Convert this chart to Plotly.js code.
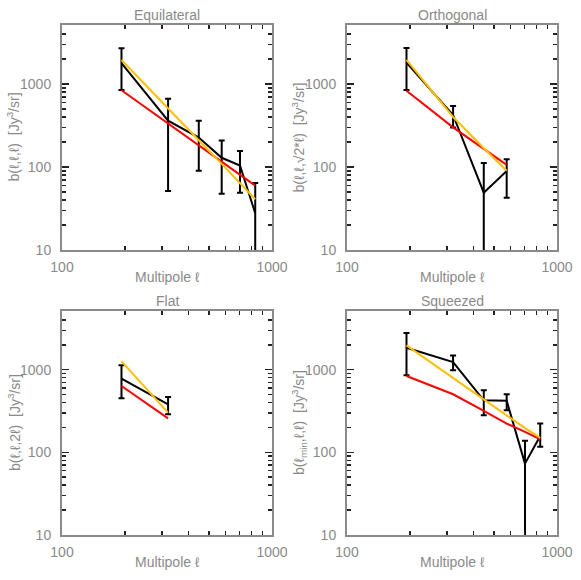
<!DOCTYPE html>
<html>
<head>
<meta charset="utf-8">
<script src="https://cdn.plot.ly/plotly-3.0.1.min.js"></script>
<style>
  body { margin: 0; background: #fff; }
  #plot { width: 581px; height: 580px; }
</style>
</head>
<body>
<div id="plot"></div>
<script>
// Equilateral
var eqL   = [192, 320, 448, 576, 704, 832];
var eqB   = [1780, 361, 226, 129, 104, 27.7];
var eqHi  = [2690, 665, 361, 209, 156, 64];
var eqLo  = [847, 51.4, 90, 47.7, 49, 1];
var eqRed = [840, 333, 184, 117, 81, 59.6];
var eqYel = [1946, 501, 210, 109, 64, 40.8];

// Orthogonal
var orL   = [192, 320, 448, 576];
var orB   = [1807, 423, 49, 89.5];
var orHi  = [2716, 543, 112, 124];
var orLo  = [847, 298, 1, 42.7];
var orRed = [830, 300, 165, 106];
var orYel = [1946, 400, 168, 90];

// Flat
var flL   = [192, 320];
var flB   = [779, 381];
var flHi  = [1128, 468];
var flLo  = [451, 289];
var flRed = [635, 258];
var flYel = [1261, 303];

// Squeezed
var sqL   = [192, 320, 448, 576, 704, 832];
var sqB   = [1844, 1238, 426, 420, 73, 158];
var sqHi  = [2772, 1489, 563, 504, 138, 223];
var sqLo  = [855, 982, 281, 323, 1, 117];
var sqRed = [839, 504, 317, 223, 177, 144];
var sqYel = [1967, 800, 443, 279, 196, 150];

var xTicks = [100, 1000];
var yTicks = [10, 100, 1000];

var panels = [
  {l: eqL, b: eqB, hi: eqHi, lo: eqLo, red: eqRed, yel: eqYel, title: 'Equilateral',
   ylab: 'b(ℓ,ℓ,ℓ)  [Jy<sup>3</sup>/sr]'},
  {l: orL, b: orB, hi: orHi, lo: orLo, red: orRed, yel: orYel, title: 'Orthogonal',
   ylab: 'b(ℓ,ℓ,√2*ℓ)  [Jy<sup>3</sup>/sr]'},
  {l: flL, b: flB, hi: flHi, lo: flLo, red: flRed, yel: flYel, title: 'Flat',
   ylab: 'b(ℓ,ℓ,2ℓ)  [Jy<sup>3</sup>/sr]'},
  {l: sqL, b: sqB, hi: sqHi, lo: sqLo, red: sqRed, yel: sqYel, title: 'Squeezed',
   ylab: 'b(ℓ<sub>min</sub>,ℓ,ℓ)  [Jy<sup>3</sup>/sr]'}
];

var W = 581, H = 580;
// plot boxes in pixels: [left, right, top, bottom]
var boxes = [
  [62, 272, 25, 250],
  [347, 557, 25, 250],
  [62, 272, 311, 535],
  [347, 557, 311, 535]
];

var minorX = [], minorY = [];
for (var d = 100; d < 1000; d *= 10) for (var k = 2; k <= 9; k++) minorX.push(k * d);
for (var d2 = 10; d2 < 10000; d2 *= 10) for (var k2 = 2; k2 <= 9; k2++) minorY.push(k2 * d2);

var grey = '#8a8a8a';
var font = {family: 'Liberation Sans, Arial, sans-serif', size: 14, color: grey};

var data = [];
var layout = {
  width: W, height: H,
  margin: {l: 0, r: 0, t: 0, b: 0},
  paper_bgcolor: '#fff', plot_bgcolor: '#fff',
  showlegend: false,
  font: font,
  annotations: []
};

panels.forEach(function (p, i) {
  var n = i === 0 ? '' : String(i + 1);
  var xa = 'x' + n, ya = 'y' + n;
  var bx = boxes[i];

  data.push({
    x: p.l, y: p.b, xaxis: xa, yaxis: ya, type: 'scatter', mode: 'lines',
    line: {color: '#000', width: 2},
    error_y: {
      type: 'data', symmetric: false,
      array: p.hi.map(function (v, j) { return v - p.b[j]; }),
      arrayminus: p.lo.map(function (v, j) { return p.b[j] - v; }),
      color: '#000', thickness: 2, width: 3
    }
  });
  data.push({x: p.l, y: p.red, xaxis: xa, yaxis: ya, type: 'scatter', mode: 'lines',
    line: {color: '#ff0000', width: 2}});
  data.push({x: p.l, y: p.yel, xaxis: xa, yaxis: ya, type: 'scatter', mode: 'lines',
    line: {color: '#ffbf00', width: 2}});

  layout['xaxis' + n] = {
    type: 'log', range: [2, 3], anchor: ya,
    domain: [bx[0] / W, bx[1] / W],
    showgrid: false, zeroline: false,
    showline: true, linecolor: grey, linewidth: 2, mirror: 'allticks',
    ticks: 'inside', ticklen: 7, tickwidth: 1.5, tickcolor: '#222',
    tickmode: 'array', tickvals: xTicks, ticktext: xTicks.map(String),
    ticklabelstandoff: 3,
    minor: {ticks: 'inside', ticklen: 4, tickwidth: 1.5, tickcolor: '#222', tickmode: 'array', tickvals: minorX},
    tickfont: font
  };
  layout['yaxis' + n] = {
    type: 'log', range: [1, 3.71], anchor: xa,
    domain: [1 - bx[3] / H, 1 - bx[2] / H],
    showgrid: false, zeroline: false,
    showline: true, linecolor: grey, linewidth: 2, mirror: 'allticks',
    ticks: 'inside', ticklen: 7, tickwidth: 1.5, tickcolor: '#222',
    tickmode: 'array', tickvals: yTicks, ticktext: yTicks.map(String),
    ticklabelstandoff: 6,
    minor: {ticks: 'inside', ticklen: 4, tickwidth: 1.5, tickcolor: '#222', tickmode: 'array', tickvals: minorY},
    tickfont: font
  };

  var cx = (bx[0] + bx[1]) / 2 / W;
  var cy = 1 - (bx[2] + bx[3]) / 2 / H;
  layout.annotations.push({
    text: p.title, xref: 'paper', yref: 'paper', x: cx, y: 1 - (bx[2] - 10) / H,
    xanchor: 'center', yanchor: 'middle', showarrow: false, font: font
  });
  layout.annotations.push({
    text: 'Multipole ℓ', xref: 'paper', yref: 'paper', x: cx, y: 1 - (bx[3] + 27) / H,
    xanchor: 'center', yanchor: 'middle', showarrow: false, font: font
  });
  layout.annotations.push({
    text: p.ylab, xref: 'paper', yref: 'paper', x: (bx[0] - 48) / W, y: cy,
    xanchor: 'center', yanchor: 'middle', textangle: -90, showarrow: false, font: font
  });
});

Plotly.newPlot('plot', data, layout, {staticPlot: true});
</script>
</body>
</html>
